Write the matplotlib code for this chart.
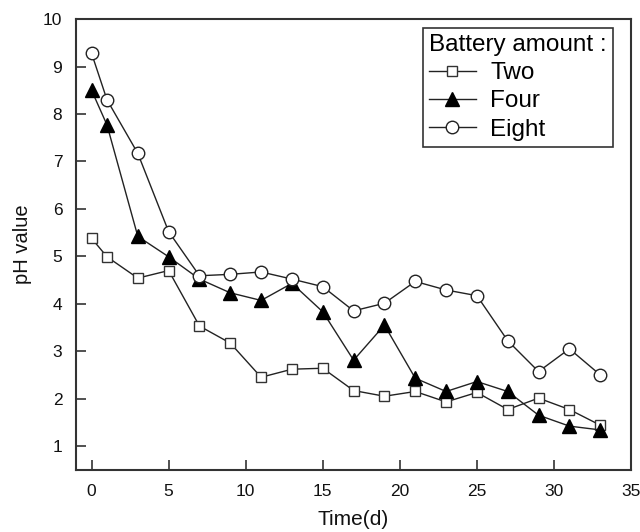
import matplotlib
matplotlib.use("Agg")
import matplotlib.pyplot as plt

plt.rcParams['font.family'] = ['Liberation Sans', 'DejaVu Sans']

time_d = [0, 1, 3, 5, 7, 9, 11, 13, 15, 17, 19, 21, 23, 25, 27, 29, 31, 33]
ph_two = [5.38, 4.99, 4.54, 4.70, 3.53, 3.17, 2.45, 2.62, 2.64, 2.17, 2.05, 2.15, 1.93, 2.13, 1.77, 2.01, 1.77, 1.44]
ph_four = [8.50, 7.77, 5.42, 4.99, 4.52, 4.23, 4.07, 4.43, 3.83, 2.81, 3.55, 2.43, 2.15, 2.36, 2.15, 1.65, 1.42, 1.34]
ph_eight = [9.28, 8.30, 7.17, 5.52, 4.59, 4.62, 4.67, 4.52, 4.36, 3.85, 4.01, 4.47, 4.29, 4.17, 3.22, 2.57, 3.05, 2.50]

labels = ["Two", "Four", "Eight"]
x_ticks = [0, 5, 10, 15, 20, 25, 30, 35]
y_ticks = [1, 2, 3, 4, 5, 6, 7, 8, 9, 10]

fig = plt.figure(figsize=(6.4, 5.32), dpi=100)
ax = fig.add_axes([0.119, 0.117, 0.867, 0.847])

lc = "#222222"
ax.plot(time_d, ph_two, color=lc, lw=1.0, marker='s', ms=7.5, mfc='white', mec='#333333', mew=1.0, label=labels[0], zorder=3)
ax.plot(time_d, ph_four, color=lc, lw=1.0, marker='^', ms=10, mfc='black', mec='black', mew=1.0, label=labels[1], zorder=4)
ax.plot(time_d, ph_eight, color=lc, lw=1.0, marker='o', ms=9, mfc='white', mec='#222222', mew=1.0, label=labels[2], zorder=5)

ax.set_xlim(-1, 35)
ax.set_ylim(0.5, 10)
ax.set_xticks(x_ticks)
ax.set_yticks(y_ticks)
ax.tick_params(direction='in', length=7, width=1.2, colors='#333333', labelsize=12.5, labelcolor='#111111', pad=10, top=False, right=False)
for s in ax.spines.values():
    s.set_linewidth(1.5)
    s.set_color('#333333')

ax.set_xlabel("Time(d)", fontsize=15, color='#111111', labelpad=8)
ax.set_ylabel("pH value", fontsize=14.5, color='#111111', labelpad=8)

leg = ax.legend(title="Battery amount :", loc='upper right', bbox_to_anchor=(0.9676, 0.980),
                fontsize=17.5, title_fontsize=17.5, frameon=True, fancybox=False,
                edgecolor='#333333', framealpha=1, handlelength=1.9, handletextpad=0.6,
                labelspacing=0.25, borderpad=0.25, borderaxespad=0.0, alignment='left')
leg.get_frame().set_linewidth(1.2)

fig.savefig("out.png", dpi=100)
